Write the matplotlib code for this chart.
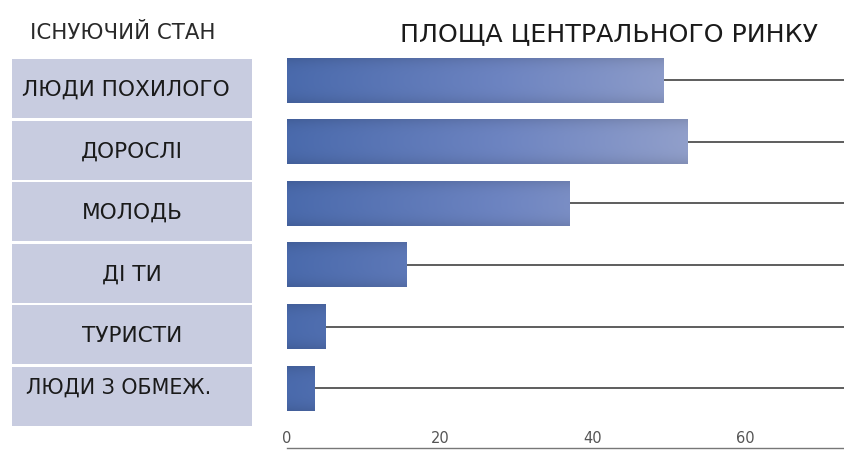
import numpy as np
import matplotlib
matplotlib.use("Agg")
import matplotlib.pyplot as plt
from matplotlib.colors import LinearSegmentedColormap
from matplotlib.patches import Rectangle

plt.rcParams['font.family'] = ['DejaVu Sans']

# ---- data ----
categories = ["ЛЮДИ ПОХИЛОГО", "ДОРОСЛІ", "МОЛОДЬ", "ДІ ТИ", "ТУРИСТИ", "ЛЮДИ З ОБМЕЖ."]
values = [49.2, 52.4, 37.0, 15.6, 5.0, 3.6]
x_ticks = [0, 20, 40, 60]
x_tick_labels = ["0", "20", "40", "60"]
title = "ПЛОЩА ЦЕНТРАЛЬНОГО РИНКУ"
left_title = "ІСНУЮЧИЙ СТАН"

W, H = 845, 450
fig = plt.figure(figsize=(W / 100, H / 100), dpi=100)
fig.patch.set_facecolor("white")

# main bar axes
ax_l, ax_r = 287 / W, 1.0
ax_top_px, ax_bot_px = 48, 448
ax = fig.add_axes([ax_l, 1 - ax_bot_px / H, ax_r - ax_l, (ax_bot_px - ax_top_px) / H])
xmax = 73
ax.set_xlim(0, xmax)
ax.set_ylim(5.97, -0.52)

ypos = np.arange(len(categories))
bars = ax.barh(ypos, values, height=0.73, color="none", edgecolor="none", zorder=3)

cmap = LinearSegmentedColormap.from_list("g", ["#4a6aac", "#6d84c1", "#96a3cc"])
for b, y, v in zip(bars, ypos, values):
    h = b.get_height()
    vert = 1 - 0.10 * np.abs(np.linspace(-1, 1, 32)) ** 3
    img = cmap(np.clip(np.linspace(0, 1, 256) * (xmax / 56), 0, 1))[None, :, :3] * vert[:, None, None]
    im = ax.imshow(img, extent=[0, xmax, y + h / 2, y - h / 2], aspect="auto",
                   interpolation="bilinear", zorder=3)
    im.set_clip_path(b)

ax.hlines(ypos, values, xmax, colors="#505050", linewidth=1.3, zorder=2)
ax.set_ylim(5.97, -0.52)
ax.set_xlim(0, xmax)

for s in ["top", "right", "left"]:
    ax.spines[s].set_visible(False)
ax.spines["bottom"].set_color("#777777")
ax.spines["bottom"].set_linewidth(1.0)
ax.set_yticks([])
ax.set_xticks(x_ticks)
ax.set_xticklabels(x_tick_labels)
ax.tick_params(axis="x", length=0, pad=-12, labelsize=10.5, labelcolor="#555555")

# left label panels
lab_l, lab_r = 12 / W, 252 / W
lab_top, lab_bot = 58, 427
lax = fig.add_axes([lab_l, 1 - lab_bot / H, lab_r - lab_l, (lab_bot - lab_top) / H])
lax.set_xlim(0, 1)
lax.set_ylim(len(categories), 0)
lax.axis("off")
gap = 0.045
fs = 15.6
for i, c in enumerate(categories):
    lax.add_patch(Rectangle((0, i + gap / 2), 1, 1 - gap, facecolor="#c8cce0", edgecolor="none"))
    if i == 0:
        lax.text(0.04, i + 0.52, c, ha="left", va="center", fontsize=fs, color="#1a1a1a")
    elif i == len(categories) - 1:
        lax.text(0.06, i + 0.36, c, ha="left", va="center", fontsize=fs * 0.95, color="#1a1a1a")
    else:
        lax.text(0.5, i + 0.52, c, ha="center", va="center", fontsize=fs, color="#1a1a1a")

fig.text(30 / W, 1 - 33 / H, left_title, ha="left", va="center", fontsize=15.3, color="#2a2a2a")
fig.text(609 / W, 1 - 34 / H, title, ha="center", va="center", fontsize=18.2, color="#1a1a1a")

fig.savefig("out.png", dpi=100, facecolor="white")
